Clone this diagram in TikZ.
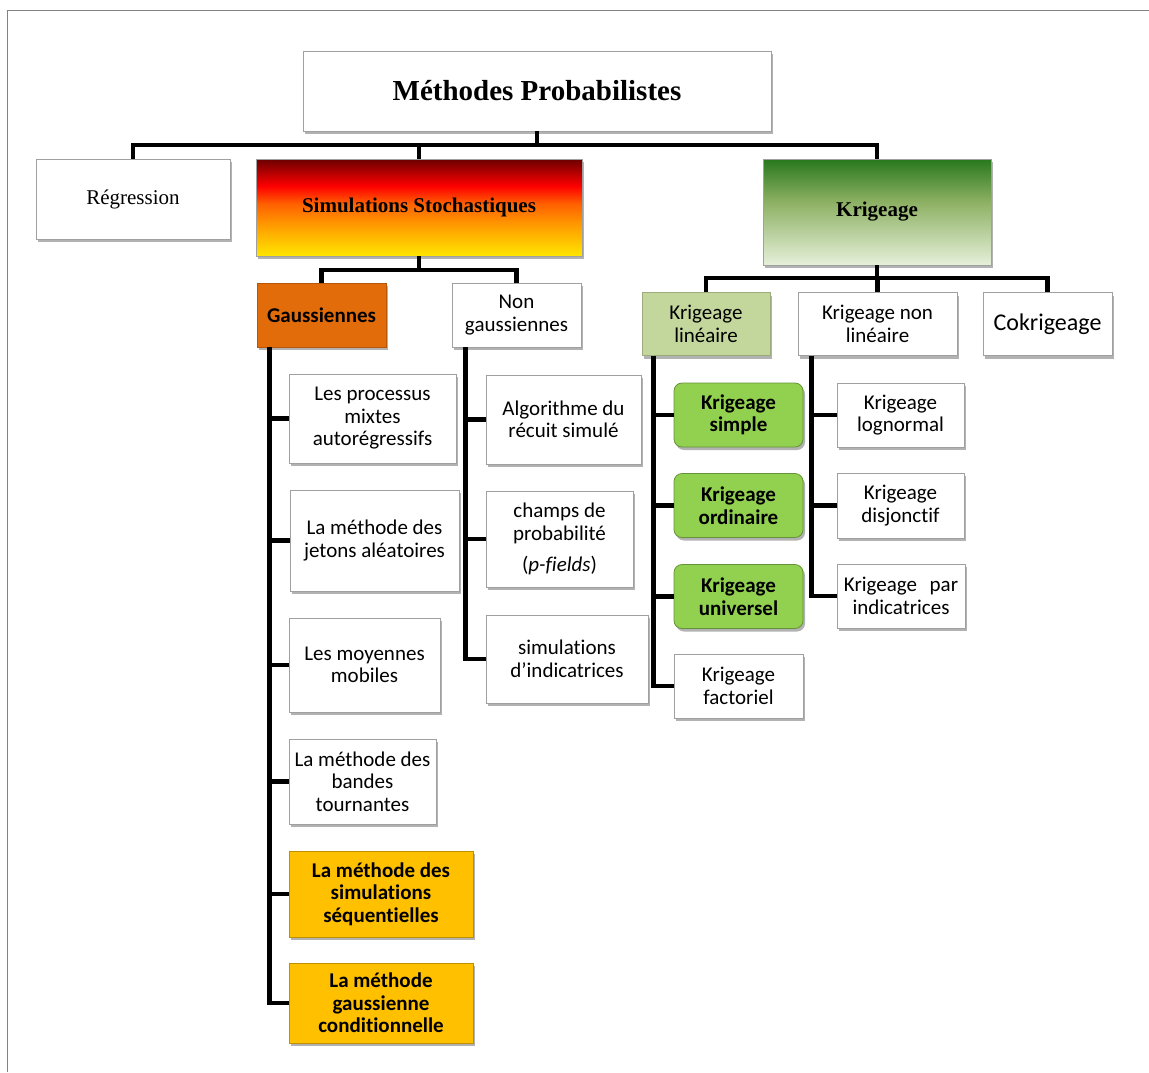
\documentclass[tikz,border=0pt]{standalone}
\usepackage{fontspec}
\setmainfont{Liberation Serif}
\newfontfamily\calibri[Ligatures=NoCommon]{Carlito}
\usetikzlibrary{shadows}

\definecolor{cadre}{RGB}{130,130,130}
\definecolor{bord}{RGB}{160,160,160}
\definecolor{orangeG}{RGB}{227,108,10}
\definecolor{jaune}{RGB}{255,192,0}
\definecolor{vertclair}{RGB}{195,214,155}
\definecolor{vertK}{RGB}{146,208,80}
\definecolor{simY}{RGB}{255,230,0}
\definecolor{simO}{RGB}{255,160,0}
\definecolor{simOr}{RGB}{255,96,0}
\definecolor{simR}{RGB}{255,0,0}
\definecolor{simD}{RGB}{107,0,0}
\definecolor{krT}{RGB}{40,120,30}
\definecolor{krM}{RGB}{140,176,98}
\definecolor{krB}{RGB}{230,240,218}

\pgfdeclareverticalshading{simushade}{100bp}{color(0bp)=(simY); color(25bp)=(simY); color(40bp)=(simO); color(52bp)=(simOr); color(61bp)=(simR); color(75bp)=(simD); color(100bp)=(simD)}
\pgfdeclareverticalshading{krigshade}{100bp}{color(0bp)=(krB); color(25bp)=(krB); color(55bp)=(krM); color(75bp)=(krT); color(100bp)=(krT)}

\tikzset{
  box/.style      = {draw=bord, fill=white, line width=0.8pt, inner sep=0pt, align=center,
                     font=\calibri\fontsize{21}{22.5}\selectfont,
                     drop shadow={shadow xshift=2pt, shadow yshift=-3pt, fill=black, opacity=0.3}},
  serifbox/.style = {box, font=\fontsize{21}{24}\selectfont},
  gaussbox/.style = {box, fill=orangeG, draw=orangeG!80!black, font=\calibri\bfseries\fontsize{21}{22.5}\selectfont},
  sgsbox/.style   = {box, fill=jaune, draw=jaune!75!black, font=\calibri\bfseries\fontsize{21}{22.5}\selectfont},
  linbox/.style   = {box, fill=vertclair, draw=vertclair!80!black},
  kvert/.style    = {box, fill=vertK, draw=vertK!70!black, rounded corners=8pt, font=\calibri\bfseries\fontsize{21}{22.5}\selectfont},
  link/.style     = {line width=4.5pt, black}
}

\begin{document}
\begin{tikzpicture}[x=1pt, y=-1pt]
\useasboundingbox (0,0) rectangle (1149,1072);
\fill[white] (0,0) rectangle (1149,1072);
\draw[cadre, line width=1pt] (7,1072) -- (7,10) -- (1149,10);

% Top level
\draw node [box, minimum width=468, minimum height=80, font=\bfseries\fontsize{29}{32}\selectfont] (titre) at (537,91) {Méthodes Probabilistes};
\draw node [serifbox, minimum width=194, minimum height=80] (regr) at (133,199) {Régression};
\draw node [serifbox, shading=simushade, minimum width=326, minimum height=97, font=\bfseries\fontsize{21}{24}\selectfont] (simu) at (419,207.5) {Simulations Stochastiques};
\draw node [serifbox, shading=krigshade, minimum width=228, minimum height=106, font=\bfseries\fontsize{21}{24}\selectfont] (krig) at (877,212) {Krigeage};

% Second level
\draw node [gaussbox, minimum width=129, minimum height=64] (gauss) at (321.5,315) {Gaussiennes};
\draw node [box, minimum width=129, minimum height=64] (nongauss) at (516.5,315) {Non\\gaussiennes};
\draw node [linbox, minimum width=128, minimum height=63] (klin) at (706,324) {Krigeage\\linéaire};
\draw node [box, minimum width=159, minimum height=63] (knonlin) at (877.5,324) {Krigeage non\\linéaire};
\draw node [box, minimum width=129, minimum height=63, font=\calibri\fontsize{24}{26}\selectfont] (cokrig) at (1047.5,324) {Cokrigeage};

% Gaussiennes
\draw node [box, minimum width=167, minimum height=89] (proc) at (372.5,418.5) {Les processus\\mixtes\\autorégressifs};
\draw node [box, minimum width=169, minimum height=101] (jetons) at (374.5,540.5) {La méthode des\\jetons aléatoires};
\draw node [box, minimum width=151, minimum height=94] (moy) at (364.5,665) {Les moyennes\\mobiles};
\draw node [box, minimum width=147, minimum height=85] (bandes) at (362.5,781.5) {La méthode des\\bandes\\tournantes};
\draw node [sgsbox, minimum width=184, minimum height=86] (seq) at (381,894) {La méthode des\\simulations\\séquentielles};
\draw node [sgsbox, minimum width=184, minimum height=80] (cond) at (381,1003) {La méthode\\gaussienne\\conditionnelle};

% Non gaussiennes
\draw node [box, minimum width=155, minimum height=89] (recuit) at (563.5,419.5) {Algorithme du\\récuit simulé};
\draw node [box, minimum width=147, minimum height=96] (pfields) at (559.5,539) {champs de\\probabilité\\[9pt](\textit{p-fields})};
\draw node [box, minimum width=162, minimum height=88] (indic) at (567,659) {simulations\\d’indicatrices};

% Krigeage lineaire
\draw node [kvert, minimum width=129, minimum height=64] (ksimple) at (738.5,415) {Krigeage\\simple};
\draw node [kvert, minimum width=129, minimum height=64] (kord) at (738.5,505.5) {Krigeage\\ordinaire};
\draw node [kvert, minimum width=129, minimum height=64] (kuniv) at (738.5,596.5) {Krigeage\\universel};
\draw node [box, minimum width=129, minimum height=64] (kfact) at (738.5,686) {Krigeage\\factoriel};

% Krigeage non lineaire
\draw node [box, minimum width=127, minimum height=64] (klog) at (900.5,415) {Krigeage\\lognormal};
\draw node [box, minimum width=127, minimum height=65] (kdisj) at (900.5,505.5) {Krigeage\\disjonctif};
\draw node [box, minimum width=128, minimum height=64] (kind) at (901,596) {Krigeage\hspace{0.6em}par\\indicatrices};

% Connections
\coordinate (haut) at (537,145);
\coordinate (basS) at (419,270);
\coordinate (basK) at (877,278);
\draw[link] (titre.south) -- (haut);
\draw[link] (regr.north) |- (haut) -| (krig.north);
\draw[link] (simu.north) -- (simu.north |- haut);
\draw[link] (simu.south) -- (basS);
\draw[link] (gauss.north) |- (basS) -| (nongauss.north);
\draw[link] (krig.south) -- (basK);
\draw[link] (klin.north) |- (basK) -| (cokrig.north);
\draw[link] (knonlin.north) -- (knonlin.north |- basK);

\draw[link] ([xshift=13pt]gauss.south west) |- (proc.west);
\draw[link] ([xshift=13pt]gauss.south west) |- (jetons.west);
\draw[link] ([xshift=13pt]gauss.south west) |- (moy.west);
\draw[link] ([xshift=13pt]gauss.south west) |- (bandes.west);
\draw[link] ([xshift=13pt]gauss.south west) |- (seq.west);
\draw[link] ([xshift=13pt]gauss.south west) |- (cond.west);
\draw[link] ([xshift=14pt]nongauss.south west) |- (recuit.west);
\draw[link] ([xshift=14pt]nongauss.south west) |- (pfields.west);
\draw[link] ([xshift=14pt]nongauss.south west) |- (indic.west);
\draw[link] ([xshift=12pt]klin.south west) |- (ksimple.west);
\draw[link] ([xshift=12pt]klin.south west) |- (kord.west);
\draw[link] ([xshift=12pt]klin.south west) |- (kuniv.west);
\draw[link] ([xshift=12pt]klin.south west) |- (kfact.west);
\draw[link] ([xshift=14pt]knonlin.south west) |- (klog.west);
\draw[link] ([xshift=14pt]knonlin.south west) |- (kdisj.west);
\draw[link] ([xshift=14pt]knonlin.south west) |- (kind.west);

\end{tikzpicture}
\end{document}
